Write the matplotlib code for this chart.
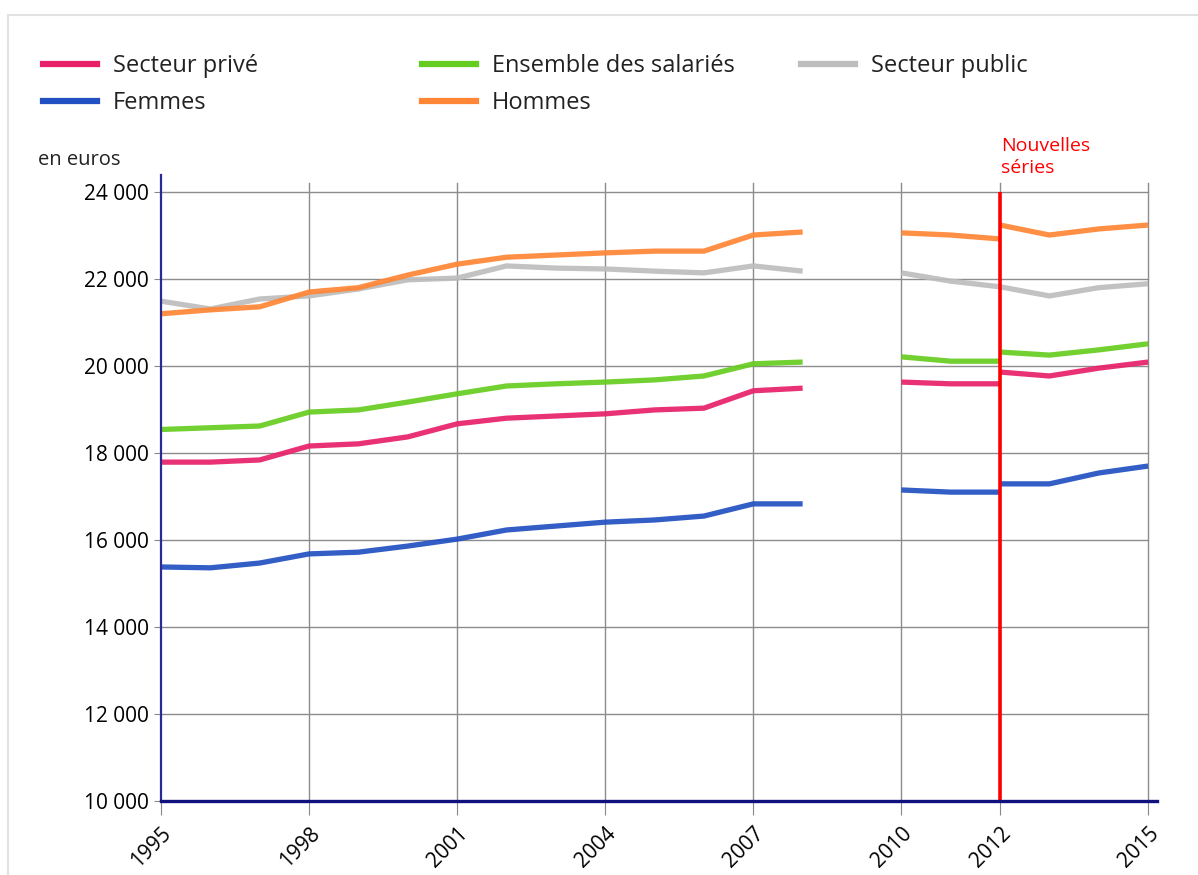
import numpy as np
import matplotlib
matplotlib.use('Agg')
import matplotlib.pyplot as plt
from matplotlib.lines import Line2D
from matplotlib.ticker import FuncFormatter

plt.rcParams['font.family'] = ['Open Sans', 'DejaVu Sans']

# old series 1995-2012 (2009 missing), new series 2012-2015
years_old = [1995, 1996, 1997, 1998, 1999, 2000, 2001, 2002, 2003, 2004,
             2005, 2006, 2007, 2008, 2009, 2010, 2011, 2012]
years_new = [2012, 2013, 2014, 2015]
nan = np.nan

prive_old = [17790, 17790, 17840, 18160, 18210, 18370, 18670, 18800, 18850, 18900,
             18990, 19030, 19430, 19490, nan, 19630, 19590, 19590]
prive_new = [19860, 19770, 19950, 20090]

ensemble_old = [18540, 18580, 18620, 18940, 18990, 19170, 19360, 19540, 19590, 19630,
                19680, 19770, 20050, 20090, nan, 20210, 20110, 20110]
ensemble_new = [20320, 20250, 20370, 20510]

public_old = [21490, 21310, 21540, 21610, 21770, 21980, 22020, 22300, 22250, 22230,
              22180, 22140, 22300, 22180, nan, 22140, 21950, 21820]
public_new = [21820, 21610, 21800, 21890]

femmes_old = [15380, 15360, 15470, 15680, 15720, 15860, 16020, 16230, 16320, 16410,
              16460, 16550, 16830, 16830, nan, 17150, 17100, 17100]
femmes_new = [17290, 17290, 17540, 17700]

hommes_old = [21200, 21290, 21360, 21700, 21800, 22090, 22340, 22500, 22550, 22600,
              22640, 22640, 23010, 23080, nan, 23060, 23010, 22920]
hommes_new = [23240, 23010, 23150, 23240]

x_ticks = [1995, 1998, 2001, 2004, 2007, 2010, 2012, 2015]
y_ticks = [10000, 12000, 14000, 16000, 18000, 20000, 22000, 24000]

series = [
    ('Secteur privé', '#e8206a', prive_old, prive_new),
    ('Ensemble des salariés', '#66cc1f', ensemble_old, ensemble_new),
    ('Secteur public', '#bdbdbd', public_old, public_new),
    ('Femmes', '#2150c2', femmes_old, femmes_new),
    ('Hommes', '#ff8634', hommes_old, hommes_new),
]
draw_order = ['Femmes', 'Secteur privé', 'Ensemble des salariés', 'Secteur public', 'Hommes']

fig = plt.figure(figsize=(11.98, 8.75), dpi=100)
ax = fig.add_axes([161 / 1198, 1 - 801 / 875, 996 / 1198, (801 - 175) / 875])

lookup = {s[0]: s for s in series}
for name in draw_order:
    label, color, old, new = lookup[name]
    ax.plot(years_old, old, color=color, lw=3.8, alpha=0.92, solid_capstyle='butt', zorder=3)
    ax.plot(years_new, new, color=color, lw=3.8, alpha=0.92, solid_capstyle='butt', zorder=3)

ax.set_xlim(1995, 2015.18)
ax.set_ylim(10000, 24390)

ax.set_xticks(x_ticks)
ax.set_xticklabels([str(y) for y in x_ticks], rotation=45, ha='right', rotation_mode='anchor')
ax.set_yticks(y_ticks)
ax.yaxis.set_major_formatter(FuncFormatter(lambda v, p: f"{int(v):,}".replace(',', ' ')))
ax.tick_params(axis='x', length=10, color='#888888', labelsize=15, pad=6)
ax.tick_params(axis='y', length=5, color='#888888', labelsize=15, pad=4)

for y in y_ticks[1:]:
    ax.axhline(y, color='#8c8c8c', lw=1, zorder=1, xmax=(2015 - 1995) / 20.18)
for x in x_ticks[1:]:
    ax.axvline(x, color='#8c8c8c', lw=1, zorder=1, ymax=(24200 - 10000) / 14390)

ax.vlines(2012, 10000, 24000, color='#ff0000', lw=2.6, zorder=4)
ax.text(2012.02, 24340, 'Nouvelles\nséries', color='#ff0000', fontsize=14, va='bottom', ha='left',
        linespacing=1.3, clip_on=False)

for side in ['top', 'right']:
    ax.spines[side].set_visible(False)
ax.spines['left'].set_color('#2a2a95')
ax.spines['left'].set_linewidth(1.6)
ax.spines['bottom'].set_color('#10107f')
ax.spines['bottom'].set_linewidth(2.4)
ax.spines['left'].set_zorder(5)
ax.spines['bottom'].set_zorder(5)

fig.text(38 / 1198, 1 - 160 / 875, 'en euros', fontsize=14.5, va='center', ha='left', color='#222222')

# legend in three columns
col_x = [43 / 1198, 422 / 1198, 801 / 1198]
columns = [[series[0], series[3]], [series[1], series[4]], [series[2]]]
for cx, col in zip(col_x, columns):
    handles = [Line2D([], [], color=s[1], lw=4.5) for s in col]
    labels = [s[0] for s in col]
    leg = fig.legend(handles, labels, loc='upper left', bbox_to_anchor=(cx, 1 - 54 / 875),
                     frameon=False, fontsize=17, handlelength=2.3, handletextpad=0.65,
                     labelspacing=0.55, borderpad=0, borderaxespad=0)
    for t in leg.get_texts():
        t.set_color('#222222')

# light frame of the page
fig.add_artist(Line2D([8 / 1198, 8 / 1198], [0, 1 - 15 / 875], color='#e2e2e2', lw=1.5))
fig.add_artist(Line2D([8 / 1198, 1], [1 - 15 / 875, 1 - 15 / 875], color='#e2e2e2', lw=1.5))

fig.savefig('out.png', dpi=100)
